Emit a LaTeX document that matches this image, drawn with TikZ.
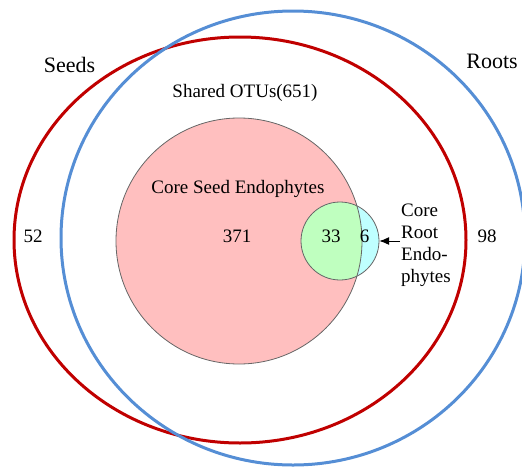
\documentclass[tikz,border=0pt]{standalone}
\usepackage{fontspec}
\setmainfont{LiberationSerif-Regular.ttf}
\usetikzlibrary{arrows.meta}
\definecolor{seedred}{RGB}{192,0,0}
\definecolor{rootblue}{RGB}{85,142,213}
\definecolor{corepink}{RGB}{255,191,191}
\definecolor{coregreen}{RGB}{191,255,191}
\definecolor{corecyan}{RGB}{191,255,255}
\tikzset{
  txt/.style={font=\fontsize{19}{22}\selectfont, inner sep=0pt, anchor=base},
  setname/.style={font=\fontsize{22}{26}\selectfont, inner sep=0pt, anchor=base},
  rim/.style={draw=black!60, line width=0.8pt}
}
\begin{document}
\begin{tikzpicture}[x=1pt,y=-1pt]
  \useasboundingbox (0,0) rectangle (522,466);
  % seeds and roots
  \draw[line width=3pt,seedred] (240,240) ellipse [x radius=226, y radius=203];
  \draw[line width=3pt,rootblue] (293,238) ellipse [x radius=232, y radius=227];
  % core seed endophytes
  \fill[corepink] (239,241) circle [radius=123];
  \node[circle, minimum size=78pt, inner sep=0pt, fill=corecyan] (rootcore) at (340,241) {};
  \begin{scope}
    \clip (239,241) circle [radius=123];
    \fill[coregreen] (340,241) circle [radius=39];
  \end{scope}
  \draw[rim] (239,241) circle [radius=123];
  \draw[rim] (340,241) circle [radius=39];
  % labels
  \node[setname] (seeds) at (69.5,72) {Seeds};
  \node[setname] (roots) at (492,68) {Roots};
  \node[txt] (shared) at (245,97) {Shared OTUs(651)};
  \node[txt] (seedcore) at (238,193) {Core Seed Endophytes};
  \node[txt] (n371) at (237,242) {371};
  \node[txt] (n33) at (331,242) {33};
  \node[txt] (n6) at (364.5,242) {6};
  \node[txt] (n52) at (33,242) {52};
  \node[txt] (n98) at (487,242) {98};
  \node[font=\fontsize{19}{22}\selectfont, align=left, inner sep=1pt, anchor=west]
    (rootlbl) at (400,245) {Core\\Root\\Endo-\\phytes};
  \draw[-{Latex[length=10pt,width=8pt]}, line width=1pt] (rootlbl.west |- rootcore.east) -- (rootcore.east);
\end{tikzpicture}
\end{document}
